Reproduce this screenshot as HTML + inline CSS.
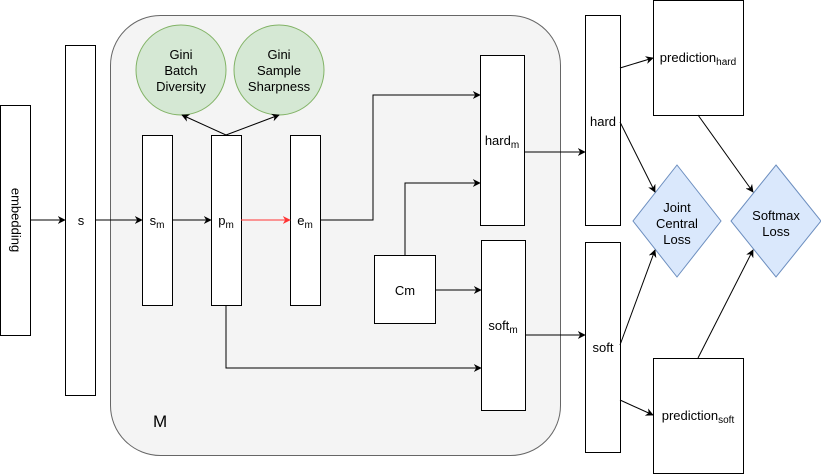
<!DOCTYPE html>
<html><head><meta charset="utf-8"><style>body{margin:0;background:#fff}svg{display:block}</style></head><body>
<svg width="821" height="474" viewBox="0 0 821 474" xmlns="http://www.w3.org/2000/svg" font-family="Liberation Sans, Arial, sans-serif" font-size="13">
<defs>
<marker id="a" viewBox="0 0 10 10" refX="9" refY="5" markerWidth="8" markerHeight="8" orient="auto" markerUnits="userSpaceOnUse"><path d="M0,0 L10,5 L0,10 L3,5 Z" fill="#000"/></marker>
<marker id="r" viewBox="0 0 10 10" refX="9" refY="5" markerWidth="8" markerHeight="8" orient="auto" markerUnits="userSpaceOnUse"><path d="M0,0 L10,5 L0,10 L3,5 Z" fill="#ff3333"/></marker>
</defs>
<rect x="110.5" y="15.5" width="450" height="440" rx="50" fill="#f4f4f4" stroke="#666"/>
<text x="153" y="427" font-size="17">M</text>
<g fill="#d5e8d4" stroke="#82b366">
<circle cx="181" cy="70" r="45"/><circle cx="279" cy="70" r="45"/>
</g>
<g text-anchor="middle" font-size="13">
<text x="181" y="59">Gini</text><text x="181" y="75">Batch</text><text x="181" y="91">Diversity</text>
<text x="279" y="59">Gini</text><text x="279" y="75">Sample</text><text x="279" y="91">Sharpness</text>
</g>
<g fill="#fff" stroke="#000">
<rect x="0.5" y="105.5" width="30" height="230"/>
<rect x="65.5" y="45.5" width="30" height="350"/>
<rect x="142.5" y="135.5" width="30" height="170"/>
<rect x="211.5" y="135.5" width="30" height="170"/>
<rect x="290.5" y="135.5" width="30" height="170"/>
<rect x="480.5" y="55.5" width="44" height="170"/>
<rect x="481.5" y="240.5" width="44" height="170"/>
<rect x="374.5" y="255.5" width="61" height="68"/>
<rect x="585.5" y="15.5" width="35" height="210"/>
<rect x="585.5" y="242.5" width="35" height="210"/>
<rect x="653.5" y="0.5" width="90" height="115"/>
<rect x="653.5" y="358.5" width="90" height="115"/>
</g>
<g fill="#dae8fc" stroke="#6c8ebf">
<path d="M677,165 L721,221 L677,277 L633,221 Z"/>
<path d="M776,165 L821,221 L776,277 L731,221 Z"/>
</g>
<g text-anchor="middle">
<text x="15" y="220" transform="rotate(90 15 220)" dominant-baseline="middle">embedding</text>
<text x="81" y="225">s</text>
<text x="157" y="225">s<tspan font-size="10" dy="3">m</tspan></text>
<text x="226" y="225">p<tspan font-size="10" dy="3">m</tspan></text>
<text x="305" y="225">e<tspan font-size="10" dy="3">m</tspan></text>
<text x="502" y="145">hard<tspan font-size="10" dy="3">m</tspan></text>
<text x="503" y="330">soft<tspan font-size="10" dy="3">m</tspan></text>
<text x="405" y="295">Cm</text>
<text x="603" y="126">hard</text>
<text x="603" y="352">soft</text>
<text x="698" y="62">prediction<tspan font-size="10" dy="3">hard</tspan></text>
<text x="698" y="420">prediction<tspan font-size="10" dy="3">soft</tspan></text>
<text x="677" y="212">Joint</text><text x="677" y="228">Central</text><text x="677" y="244">Loss</text>
<text x="776" y="220">Softmax</text><text x="776" y="236">Loss</text>
</g>
<g fill="none" stroke="#000" stroke-width="1" marker-end="url(#a)">
<path d="M30,220 H65"/>
<path d="M95,220 H142"/>
<path d="M172,220 H211"/>
<path d="M226,135 L182,115"/>
<path d="M226,135 L279,115"/>
<path d="M320,220 H373 V95 H480"/>
<path d="M405,255 V183 H480"/>
<path d="M436,290 H481"/>
<path d="M226,305 V368 H481"/>
<path d="M524,152 H585"/>
<path d="M525,335 H585"/>
<path d="M620,68 L653,58"/>
<path d="M620,122 L655,192"/>
<path d="M620,345 L655,250"/>
<path d="M620,400 L653,415"/>
<path d="M698,115 L753,192"/>
<path d="M698,358 L753,250"/>
</g>
<path d="M241,220 H290" stroke="#ff3333" fill="none" marker-end="url(#r)"/>
</svg>
</body></html>
